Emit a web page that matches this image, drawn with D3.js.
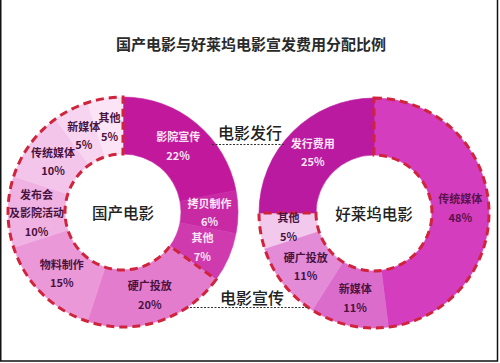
<!DOCTYPE html>
<html><head><meta charset="utf-8">
<script src="https://cdn.jsdelivr.net/npm/d3@7"></script>
<style>body{margin:0;background:#fff}svg{display:block}</style>
</head><body>
<svg id="c" width="500" height="363"></svg>
<script>
const title = "国产电影与好莱坞电影宣发费用分配比例";
const domesticName = "国产电影";
const hollywoodName = "好莱坞电影";
const domesticLabels = ["影院宣传","拷贝制作","其他","硬广投放","物料制作","发布会|及影院活动","传统媒体","新媒体","其他"];
const domesticValues = [22,6,7,20,15,10,10,5,5];
const domesticGroup = ["发行","发行","发行","宣传","宣传","宣传","宣传","宣传","宣传"];
const hollywoodLabels = ["传统媒体","新媒体","硬广投放","其他","发行费用"];
const hollywoodValues = [48,11,11,5,25];
const hollywoodGroup = ["宣传","宣传","宣传","宣传","发行"];
const groupLabels = ["电影发行","电影宣传"];

const domesticColors = ["#c2189c","#c82aa4","#cf3aae","#e47ccd","#eb98d8","#f0b2e3","#f4c5ea","#f7d5f0","#fae4f6"];
const hollywoodColors = ["#d43dbd","#dc6ccb","#e38bd6","#f2c8ec","#ba1aa0"];
const domesticText = ["#fbe6f5","#fbe6f5","#fbe6f5","#4a1240","#4a1240","#4a1240","#4a1240","#4a1240","#4a1240"];
const hollywoodText = ["#5a1250","#4a1240","#4a1240","#4a1240","#fbe6f5"];

const svg = d3.select("#c");
const font = "'Noto Sans CJK SC','Noto Sans',sans-serif";

// frame
svg.append("path").attr("d","M0.75,0 V361 H497.5 V0").attr("fill","none").attr("stroke","#111").attr("stroke-width",1.5);

svg.append("text").attr("x",251).attr("y",43).attr("text-anchor","middle").attr("dominant-baseline","central")
  .attr("font-family",font).attr("font-size",15).attr("font-weight",700).attr("fill","#2a2a2a").text(title);

const outerR = 115, innerR = 58;
const arc = d3.arc().innerRadius(innerR).outerRadius(outerR);
const pie = d3.pie().sort(null).value(d => d.v);

function donut(cx, cy, labels, values, groups, colors, textColors, centerName){
  const data = labels.map((l,i)=>({l, v:values[i], g:groups[i], c:colors[i], t:textColors[i]}));
  const arcs = pie(data);
  const g = svg.append("g").attr("transform",`translate(${cx},${cy})`);
  g.selectAll("path.s").data(arcs).join("path").attr("class","s")
    .attr("d",arc).attr("fill",d=>d.data.c).attr("stroke",d=>d.data.c).attr("stroke-width",0.6);
  // dashed outline around 宣传 group
  const prom = arcs.filter(a=>a.data.g==="宣传");
  const s0 = d3.min(prom,a=>a.startAngle), s1 = d3.max(prom,a=>a.endAngle);
  g.append("path").attr("d",d3.arc().innerRadius(innerR).outerRadius(outerR)({startAngle:s0,endAngle:s1}))
    .attr("fill","none").attr("stroke","#d0243c").attr("stroke-width",3).attr("stroke-dasharray","8,5");
  // labels
  const lab = g.selectAll("g.l").data(arcs).join("g").attr("class","l")
    .attr("transform",d=>`translate(${arc.centroid(d)})`);
  lab.each(function(d){
    const lines = d.data.l.split("|").concat([d.data.v+"%"]);
    const n = lines.length, lh = 18.5;
    d3.select(this).selectAll("text").data(lines).join("text")
      .attr("x",0).attr("y",(t,i)=>(i-(n-1)/2)*lh)
      .attr("text-anchor","middle").attr("dominant-baseline","central")
      .attr("font-family",font).attr("font-size",11).attr("font-weight",700)
      .attr("fill",d.data.t).text(t=>t);
  });
  g.append("text").attr("x",0).attr("y",0).attr("text-anchor","middle").attr("dominant-baseline","central")
    .attr("font-family",font).attr("font-size",15.5).attr("font-weight",500).attr("fill","#222").text(centerName);
}

donut(123, 212, domesticLabels, domesticValues, domesticGroup, domesticColors, domesticText, domesticName);
donut(374, 213, hollywoodLabels, hollywoodValues, hollywoodGroup, hollywoodColors, hollywoodText, hollywoodName);

// group labels
svg.append("text").attr("x",250).attr("y",132).attr("text-anchor","middle").attr("dominant-baseline","central")
  .attr("font-family",font).attr("font-size",16).attr("font-weight",500).attr("fill","#222").text(groupLabels[0]);
svg.append("line").attr("x1",212).attr("x2",284).attr("y1",144.5).attr("y2",144.5)
  .attr("stroke","#333").attr("stroke-width",1).attr("stroke-dasharray","2,1.5");
svg.append("text").attr("x",252).attr("y",297).attr("text-anchor","middle").attr("dominant-baseline","central")
  .attr("font-family",font).attr("font-size",16).attr("font-weight",500).attr("fill","#222").text(groupLabels[1]);
svg.append("line").attr("x1",190).attr("x2",309).attr("y1",307.5).attr("y2",307.5)
  .attr("stroke","#333").attr("stroke-width",1).attr("stroke-dasharray","2,1.5");
</script>
</body></html>
